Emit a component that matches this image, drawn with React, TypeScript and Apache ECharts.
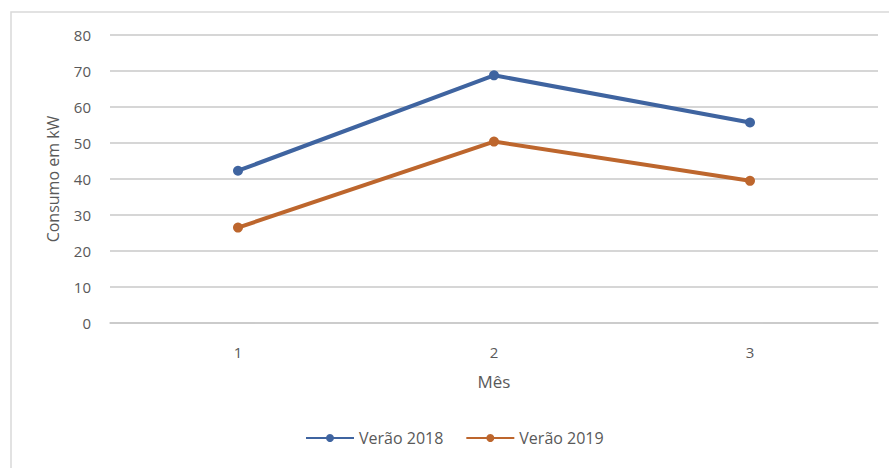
import React, { useEffect, useRef } from "react";
import * as echarts from "echarts";

const categories = ["1", "2", "3"];
const verao2018 = [42.3, 68.8, 55.7];
const verao2019 = [26.5, 50.4, 39.5];
const seriesNames = ["Verão 2018", "Verão 2019"];

export default function App() {
  const ref = useRef<HTMLDivElement>(null);
  useEffect(() => {
    const chart = echarts.init(ref.current!, null, { renderer: "svg" });
    const font = "'Open Sans', 'Noto Sans', sans-serif";
    chart.setOption({
      animation: false,
      backgroundColor: "#ffffff",
      textStyle: { fontFamily: font },
      graphic: [
        {
          type: "rect",
          shape: { x: 11, y: 12, width: 900, height: 480 },
          style: { fill: "none", stroke: "#d9d9d9", lineWidth: 1.5 },
          silent: true,
        },
      ],
      grid: { left: 110, right: 11, top: 35, bottom: 145, containLabel: false },
      legend: {
        bottom: 17,
        left: 300,
        itemWidth: 48,
        itemHeight: 10,
        itemGap: 22,
        textStyle: { color: "#595959", fontSize: 16, fontFamily: font },
        data: seriesNames,
      },
      xAxis: {
        type: "category",
        data: categories,
        boundaryGap: true,
        name: "Mês",
        nameLocation: "middle",
        nameGap: 50,
        nameTextStyle: { color: "#595959", fontSize: 17, fontFamily: font },
        axisLine: { lineStyle: { color: "#c8c8c8", width: 1.5 } },
        axisTick: { show: false },
        axisLabel: { color: "#595959", fontSize: 15, margin: 21, fontFamily: font },
      },
      yAxis: {
        type: "value",
        min: 0,
        max: 80,
        interval: 10,
        name: "Consumo em kW",
        nameLocation: "middle",
        nameGap: 49,
        nameRotate: 90,
        nameTextStyle: { color: "#595959", fontSize: 16, fontFamily: font },
        axisLine: { show: false },
        axisTick: { show: false },
        axisLabel: { color: "#595959", fontSize: 15, margin: 19, fontFamily: font },
        splitLine: { lineStyle: { color: "#c8c8c8", width: 1.5 } },
      },
      series: [
        {
          name: seriesNames[0],
          type: "line",
          data: verao2018,
          symbol: "circle",
          symbolSize: 10,
          lineStyle: { color: "#3f64a0", width: 4 },
          itemStyle: { color: "#3f64a0" },
        },
        {
          name: seriesNames[1],
          type: "line",
          data: verao2019,
          symbol: "circle",
          symbolSize: 10,
          lineStyle: { color: "#bd662d", width: 4 },
          itemStyle: { color: "#bd662d" },
        },
      ],
    });
    return () => chart.dispose();
  }, []);
  return (
    <div
      ref={ref}
      style={{ position: "fixed", left: 0, top: 0, width: 889, height: 468 }}
    />
  );
}
